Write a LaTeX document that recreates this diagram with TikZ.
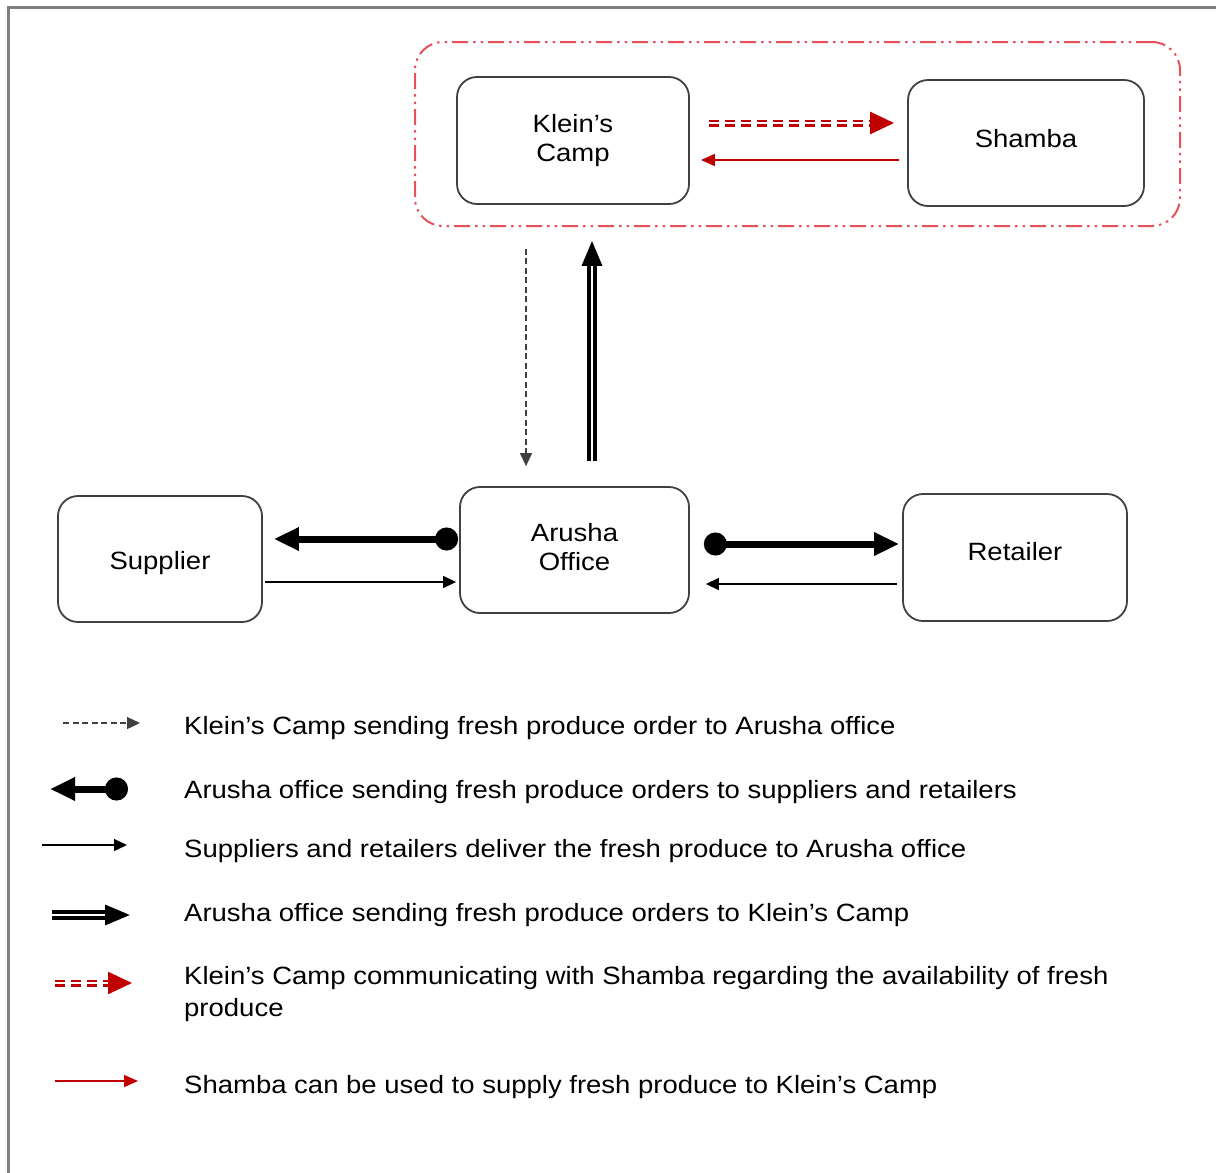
\documentclass[tikz,border=0pt]{standalone}
\usepackage{fontspec}
\setmainfont[FakeStretch=1.1]{Liberation Sans}
\usetikzlibrary{arrows.meta,calc}
\definecolor{boxline}{HTML}{404040}
\definecolor{darkred}{HTML}{C00000}
\definecolor{groupred}{HTML}{E8505A}
\definecolor{framegray}{HTML}{808080}
\begin{document}
\begin{tikzpicture}[x=1pt,y=-1pt,
  box/.style={draw=boxline, line width=1.8pt, rounded corners=20pt, align=center,
    font=\fontsize{25}{28.5}\selectfont, inner sep=0pt},
  grpbox/.style={draw=groupred, line width=2pt, rounded corners=28pt,
    dash pattern=on 16pt off 5pt on 2.5pt off 5pt on 2.5pt off 5pt},
  lbl/.style={anchor=base west, align=left, font=\fontsize{25}{32}\selectfont, inner sep=0pt},
  orderarrow/.style={draw=boxline, line width=1.3pt, dash pattern=on 6pt off 3.5pt,
    -{Triangle[length=13pt,width=12pt]}},
  deliverarrow/.style={draw=black, line width=1.3pt, -{Triangle[length=13pt,width=12pt]}},
  thickarrow/.style={draw=black, line width=7pt,
    {Circle[length=23pt,width=23pt]}-{Triangle[length=25pt,width=22pt]}},
  dblarrow/.style={draw=black, double=white, double distance=2.7pt, line width=3.3pt,
    -{Triangle[length=25pt,width=20pt]}},
  reddbl/.style={draw=darkred, double=white, double distance=2pt, line width=2.5pt,
    dash pattern=on 10pt off 6pt, -{Triangle[length=24pt,width=22pt]}},
  redthin/.style={draw=darkred, line width=1.5pt, -{Triangle[length=14pt,width=12pt]}}
]
\useasboundingbox (0,0) rectangle (1216,1173);
\draw[framegray, line width=3pt] (8.5,1173) -- (8.5,7.5) -- (1216,7.5);

% group container
\node[grpbox, minimum width=765pt, minimum height=184pt] (grp) at (797.5,134) {};

% boxes
\node[box, minimum width=232pt, minimum height=127pt] (klein) at (573,140.5) {Klein’s\\Camp};
\node[box, minimum width=236pt, minimum height=126pt, text depth=10pt] (shamba) at (1026,143) {Shamba};
\node[box, minimum width=204pt, minimum height=126pt, text height=27pt] (supplier) at (160,559) {Supplier};
\node[box, minimum width=229pt, minimum height=126pt] (arusha) at (574.5,550) {\raisebox{2.5pt}{\begin{tabular}{@{}c@{}}Arusha\\[0.5pt]Office\end{tabular}}};
\node[box, minimum width=224pt, minimum height=127pt, text depth=13pt] (retailer) at (1015,557.5) {Retailer};

% connectors
\draw[reddbl] ($(klein.east)+(19,-17.5)$) -- ($(shamba.west |- klein.east)+(-13,-17.5)$);
\draw[redthin] ($(shamba.west |- klein.east)+(-8,19.5)$) -- ($(klein.east)+(11,19.5)$);
\draw[orderarrow] ($(klein.south)+(-47,44)$) -- ($(arusha.north)+(-48.5,-20)$);
\draw[dblarrow] ($(arusha.north)+(17.5,-25)$) -- ($(klein.south)+(19,36)$);
\draw[thickarrow] ($(arusha.west)+(-1,-11)$) -- ($(supplier.east)+(11,-20)$);
\draw[deliverarrow] ($(supplier.east)+(2,23)$) -- ($(arusha.west)+(-3,32)$);
\draw[thickarrow] ($(arusha.east)+(14,-6)$) -- ($(retailer.west)+(-3,-13.5)$);
\draw[deliverarrow] ($(retailer.west)+(-5,26.5)$) -- ($(arusha.east)+(16,34)$);

% legend
\coordinate (l1s) at (63,723);  \coordinate (l1e) at (140,723);
\coordinate (l2s) at (128,789); \coordinate (l2e) at (50,789);
\coordinate (l3s) at (42,845);  \coordinate (l3e) at (127,845);
\coordinate (l4s) at (52,915);  \coordinate (l4e) at (130,915);
\coordinate (l5s) at (55,983);  \coordinate (l5e) at (132,983);
\coordinate (l6s) at (55,1081); \coordinate (l6e) at (138,1081);
\draw[orderarrow] (l1s) -- (l1e);
\draw[thickarrow] (l2s) -- (l2e);
\draw[deliverarrow] (l3s) -- (l3e);
\draw[dblarrow] (l4s) -- (l4e);
\draw[reddbl] (l5s) -- (l5e);
\draw[redthin] (l6s) -- (l6e);

\node[lbl] (t1) at (184,734) {Klein’s Camp sending fresh produce order to Arusha office};
\node[lbl] (t2) at (184,798) {Arusha office sending fresh produce orders to suppliers and retailers};
\node[lbl] (t3) at (184,857) {Suppliers and retailers deliver the fresh produce to Arusha office};
\node[lbl] (t4) at (184,921) {Arusha office sending fresh produce orders to Klein’s Camp};
\node[lbl] (t5) at (184,1016) {Klein’s Camp communicating with Shamba regarding the availability of fresh\\produce};
\node[lbl] (t6) at (184,1093) {Shamba can be used to supply fresh produce to Klein’s Camp};
\end{tikzpicture}
\end{document}
